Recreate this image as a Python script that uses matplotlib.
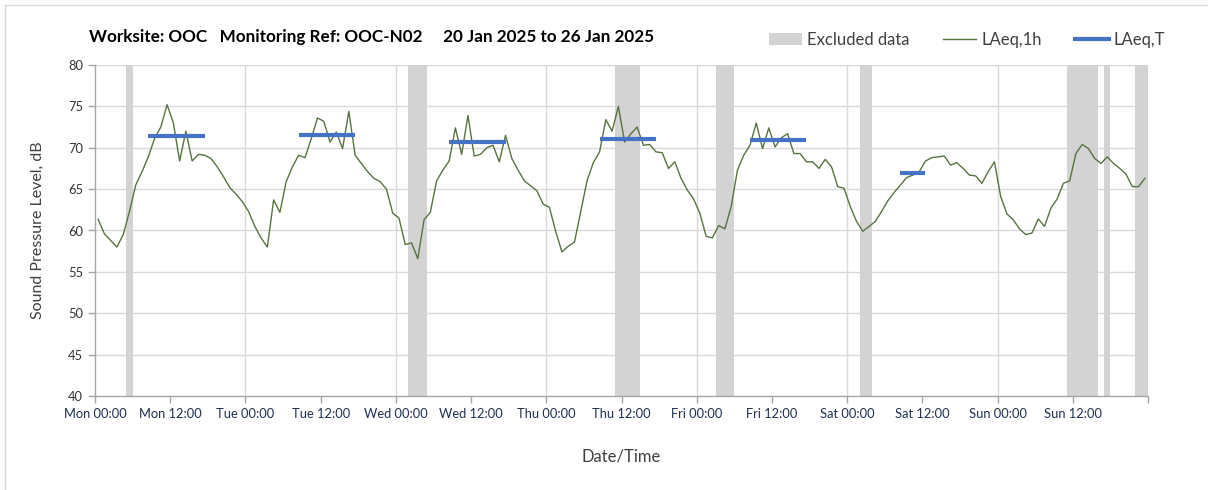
import numpy as np
import matplotlib
matplotlib.use("Agg")
import matplotlib.pyplot as plt
from matplotlib.patches import Patch
from matplotlib.lines import Line2D

plt.rcParams['font.family'] = ['Lato', 'DejaVu Sans']

# ---- data -------------------------------------------------------------
# hourly LAeq,1h values (dB), Mon 00:00 .. Sun 23:00 (plotted at mid-hour)
laeq_1h = [
    61.35, 59.6, 58.8, 58.0, 59.5, 62.3, 65.5, 67.1, 68.9, 71.1, 72.5, 75.2,
    73.0, 68.4, 72.0, 68.4, 69.2, 69.1, 68.7, 67.7, 66.5, 65.2, 64.4, 63.5,
    62.3, 60.5, 59.1, 58.0, 63.7, 62.2, 65.9, 67.7, 69.1, 68.8, 71.1, 73.6,
    73.2, 70.7, 71.9, 69.9, 74.4, 69.1, 68.1, 67.1, 66.3, 65.9, 65.0, 62.1,
    61.5, 58.3, 58.5, 56.6, 61.3, 62.2, 66.0, 67.3, 68.4, 72.4, 69.2, 73.9,
    69.0, 69.2, 70.0, 70.3, 68.3, 71.5, 68.7, 67.3, 66.0, 65.4, 64.8, 63.2,
    62.8, 59.9, 57.4, 58.1, 58.6, 62.3, 66.0, 68.2, 69.5, 73.4, 72.0, 75.0,
    70.7, 71.7, 72.5, 70.3, 70.4, 69.5, 69.4, 67.5, 68.3, 66.3, 64.9, 63.8,
    62.1, 59.3, 59.1, 60.6, 60.2, 62.9, 67.3, 69.1, 70.3, 73.0, 69.9, 72.4,
    70.1, 71.2, 71.7, 69.3, 69.3, 68.3, 68.3, 67.5, 68.6, 67.7, 65.3, 65.1,
    62.9, 61.1, 59.9, 60.5, 61.1, 62.3, 63.6, 64.6, 65.5, 66.4, 66.7, 67.1,
    68.4, 68.8, 68.9, 69.0, 67.9, 68.2, 67.5, 66.7, 66.6, 65.7, 67.1, 68.3,
    64.1, 62.0, 61.3, 60.2, 59.5, 59.7, 61.4, 60.5, 62.7, 63.8, 65.7, 66.0,
    69.3, 70.4, 69.9, 68.7, 68.1, 68.9, 68.1, 67.5, 66.8, 65.3, 65.3, 66.3,
]
hour_start = list(range(168))

# LAeq,T periods: (first hour, last hour, level dB)
laeq_t_start = [8, 32, 56, 80, 104, 128]
laeq_t_end = [17, 41, 65, 89, 113, 132]
laeq_t_value = [71.4, 71.6, 70.7, 71.1, 70.9, 67.0]

# excluded data periods (hours from Mon 00:00)
excl_start = [5, 50, 83, 99, 122, 155, 161, 166]
excl_end = [6, 53, 87, 102, 124, 160, 162, 168]

tick_labels = ["Mon 00:00", "Mon 12:00", "Tue 00:00", "Tue 12:00",
               "Wed 00:00", "Wed 12:00", "Thu 00:00", "Thu 12:00",
               "Fri 00:00", "Fri 12:00", "Sat 00:00", "Sat 12:00",
               "Sun 00:00", "Sun 12:00", ""]

title = "Worksite: OOC   Monitoring Ref: OOC-N02     20 Jan 2025 to 26 Jan 2025"

# ---- style ------------------------------------------------------------
GREEN = "#58733f"
BLUE = "#4472C4"
GREY_BAND = "#D3D3D3"
GRID = "#D9D9D9"
SPINE = "#A6A6A6"
TXT = "#404040"

fig = plt.figure(figsize=(12.08, 4.90), dpi=100)
ax = fig.add_axes([95 / 1208, 1 - 396 / 490, (1148 - 95) / 1208, (396 - 65) / 490])

x = np.array(hour_start) + 0.5
for s, e in zip(excl_start, excl_end):
    ax.axvspan(s, e, color=GREY_BAND, lw=0, zorder=1)

ax.plot(x, laeq_1h, color=GREEN, lw=1.0, zorder=3)
for s, e, v in zip(laeq_t_start, laeq_t_end, laeq_t_value):
    ax.plot([s + 0.5, e + 0.5], [v, v], color=BLUE, lw=3, zorder=4,
            solid_capstyle='butt')

ax.set_xlim(0, 168)
ax.set_ylim(40, 80)
ax.set_yticks(np.arange(40, 81, 5))
ax.set_xticks(np.arange(0, 169, 12))
ax.set_xticklabels(tick_labels, fontsize=9.3, color="#1F2F4F")
ax.tick_params(axis='y', labelsize=9.3, labelcolor="#333333")
ax.tick_params(axis='both', direction='out', length=5, color=SPINE, width=1)

# grid
for v in range(45, 81, 5):
    ax.axhline(v, color=GRID, lw=1.0, zorder=0.5)
for d in range(24, 168, 24):
    ax.axvline(d, color=GRID, lw=1.0, zorder=0.5)

for side in ['top', 'right']:
    ax.spines[side].set_visible(False)
for side in ['left', 'bottom']:
    ax.spines[side].set_color(SPINE)
    ax.spines[side].set_linewidth(1.0)
    ax.spines[side].set_zorder(5)

ax.set_ylabel("Sound Pressure Level, dB", fontsize=11.5, color=TXT, labelpad=17)
ax.set_xlabel("Date/Time", fontsize=12, color=TXT, labelpad=21)

fig.text(89 / 1208, 1 - 37 / 490, title, fontsize=12.3, fontweight='bold',
         color='black', va='center', ha='left')

handles = [Patch(facecolor=GREY_BAND, edgecolor='none'),
           Line2D([], [], color=GREEN, lw=1.0),
           Line2D([], [], color=BLUE, lw=3)]
leg = fig.legend(handles, ["Excluded data", "LAeq,1h", "LAeq,T"],
                 loc='center', bbox_to_anchor=(967 / 1208, 1 - 40 / 490),
                 ncol=3, frameon=False, fontsize=12, handlelength=2.0,
                 handletextpad=0.3, columnspacing=2.0, labelcolor=TXT)

# outer border (left & top visible)
fig.add_artist(Line2D([5 / 1208, 5 / 1208], [0, 1 - 5 / 490],
                      transform=fig.transFigure, color="#D9D9D9", lw=1))
fig.add_artist(Line2D([5 / 1208, 1], [1 - 5 / 490, 1 - 5 / 490],
                      transform=fig.transFigure, color="#D9D9D9", lw=1))

fig.savefig("out.png", dpi=100)
